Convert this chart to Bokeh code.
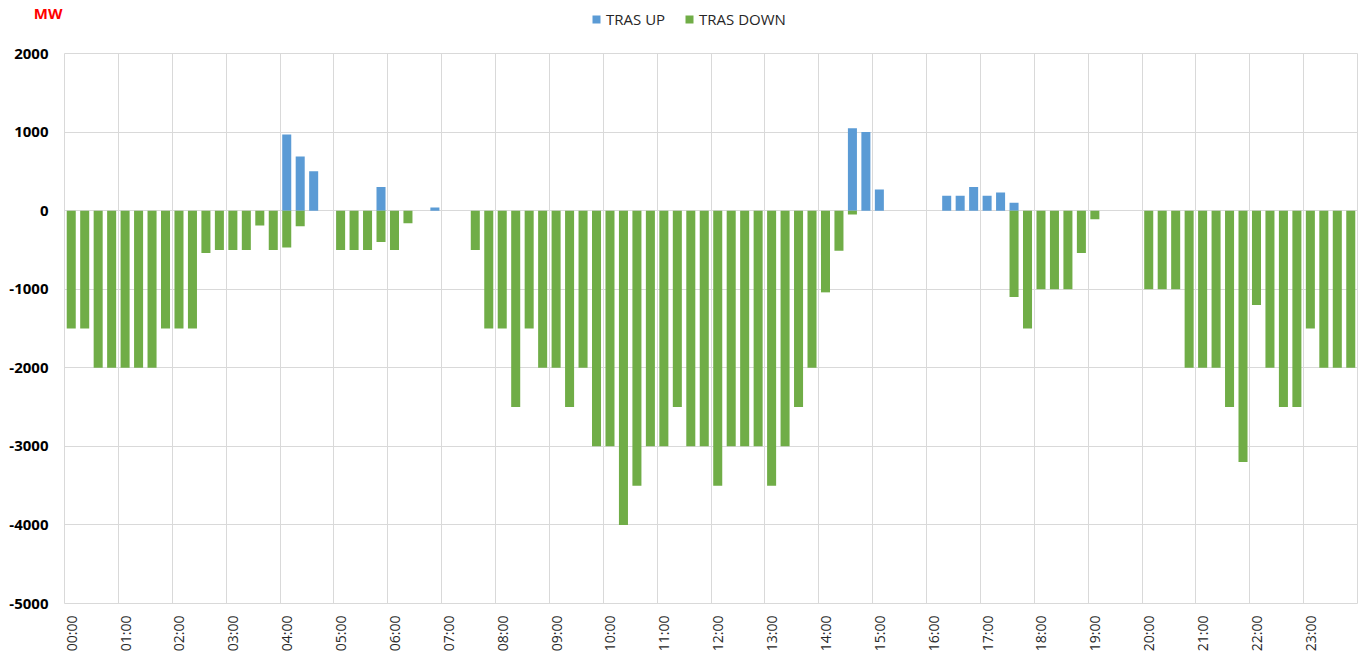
from bokeh.plotting import figure
from bokeh.layouts import column
from bokeh.models import FixedTicker, Legend, LegendItem, ColumnDataSource, Range1d
from bokeh.embed import file_html
from bokeh.resources import INLINE

# Quarter-hour slots 00:00 .. 23:45
hours = [f"{h:02d}:00" for h in range(24)]

tras_up = [
    0, 0, 0, 0,          # 00
    0, 0, 0, 0,          # 01
    0, 0, 0, 0,          # 02
    0, 0, 0, 0,          # 03
    970, 690, 500, 0,    # 04
    0, 0, 0, 300,        # 05
    0, 0, 0, 40,         # 06
    0, 0, 0, 0,          # 07
    0, 0, 0, 0,          # 08
    0, 0, 0, 0,          # 09
    0, 0, 0, 0,          # 10
    0, 0, 0, 0,          # 11
    0, 0, 0, 0,          # 12
    0, 0, 0, 0,          # 13
    0, 0, 1050, 1000,    # 14
    270, 0, 0, 0,        # 15
    0, 190, 190, 300,    # 16
    190, 230, 100, 0,    # 17
    0, 0, 0, 0,          # 18
    0, 0, 0, 0,          # 19
    0, 0, 0, 0,          # 20
    0, 0, 0, 0,          # 21
    0, 0, 0, 0,          # 22
    0, 0, 0, 0,          # 23
]

tras_down = [
    -1500, -1500, -2000, -2000,   # 00
    -2000, -2000, -2000, -1500,   # 01
    -1500, -1500, -540, -500,     # 02
    -500, -500, -190, -500,       # 03
    -470, -200, 0, 0,             # 04
    -500, -500, -500, -400,       # 05
    -500, -160, 0, 0,             # 06
    0, 0, -500, -1500,            # 07
    -1500, -2500, -1500, -2000,   # 08
    -2000, -2500, -2000, -3000,   # 09
    -3000, -4000, -3500, -3000,   # 10
    -3000, -2500, -3000, -3000,   # 11
    -3500, -3000, -3000, -3000,   # 12
    -3500, -3000, -2500, -2000,   # 13
    -1040, -510, -50, 0,          # 14
    0, 0, 0, 0,                   # 15
    0, 0, 0, 0,                   # 16
    0, 0, -1100, -1500,           # 17
    -1000, -1000, -1000, -540,    # 18
    -110, 0, 0, 0,                # 19
    -1000, -1000, -1000, -2000,   # 20
    -2000, -2000, -2500, -3200,   # 21
    -1200, -2000, -2500, -2500,   # 22
    -1500, -2000, -2000, -2000,   # 23
]

series_names = ["TRAS UP", "TRAS DOWN"]
series_colors = ["#5B9BD5", "#70AD47"]
unit_label = "MW"

y_ticks = [-5000, -4000, -3000, -2000, -1000, 0, 1000, 2000]
y_labels = ["-5000", "-4000", "-3000", "-2000", "-1000", "0", "1000", "2000"]

W = 1363
TOP_H = 43          # header strip height
TOP_FRAME = 36      # header strip frame height (pixels from top)
MAIN_TOP = 10       # main plot border above frame

# ---------- header strip: unit label (as axis label text) and legend ----------
top = figure(width=W, height=TOP_H, output_backend="svg", toolbar_location=None,
             x_range=Range1d(0, 1), y_range=Range1d(TOP_FRAME, 0), x_axis_location=None,
             min_border_left=64, min_border_right=6, min_border_top=0,
             min_border_bottom=TOP_H - TOP_FRAME)
top.outline_line_color = None
top.xgrid.visible = False
top.ygrid.visible = False
top.yaxis.ticker = FixedTicker(ticks=[12.5])
top.yaxis.major_label_overrides = {12.5: unit_label}
top.yaxis.major_label_text_color = "#FF0000"
top.yaxis.major_label_text_font = "Open Sans"
top.yaxis.major_label_text_font_style = "bold"
top.yaxis.major_label_text_font_size = "15px"
top.yaxis.major_label_standoff = 2
top.yaxis.axis_line_color = None
top.yaxis.major_tick_line_color = None
top.yaxis.major_tick_out = 0
top.yaxis.major_tick_in = 0
top.yaxis.minor_tick_line_color = None

# zero-height proxies so the legend can show the series swatches
proxy_up = top.vbar(x=[0], top=[0], bottom=[0], width=0, fill_color=series_colors[0], line_color=None)
proxy_down = top.vbar(x=[0], top=[0], bottom=[0], width=0, fill_color=series_colors[1], line_color=None)
legend = Legend(items=[LegendItem(label=series_names[0], renderers=[proxy_up]),
                       LegendItem(label=series_names[1], renderers=[proxy_down])],
                orientation="horizontal", location=(527, TOP_FRAME - 29),
                glyph_width=10, glyph_height=10, label_standoff=5, spacing=19,
                padding=0, margin=0, border_line_color=None, background_fill_alpha=0,
                label_text_font="Open Sans", label_text_font_size="15px",
                label_text_color="#262626")
top.add_layout(legend, "center")

# ---------- main chart ----------
n = len(tras_up)
xs = [i + 0.5 for i in range(n)]
src = ColumnDataSource(dict(x=xs, up=tras_up, down=tras_down, zero=[0] * n))

p = figure(width=W, height=658 - TOP_H, output_backend="svg", toolbar_location=None,
           x_range=(0, n), y_range=(-5000, 2000),
           min_border_left=64, min_border_right=6, min_border_top=MAIN_TOP, min_border_bottom=55)
p.background_fill_color = "white"
p.border_fill_color = "white"
p.outline_line_color = "#D9D9D9"

p.vbar(x="x", top="up", bottom="zero", width=0.67, source=src,
       fill_color=series_colors[0], line_color=None)
p.vbar(x="x", top="zero", bottom="down", width=0.67, source=src,
       fill_color=series_colors[1], line_color=None)

# x axis: labels at first slot of each hour, grid at hour boundaries
tick_pos = [i * 4 + 0.5 for i in range(24)]
p.xaxis.ticker = FixedTicker(ticks=tick_pos)
p.xaxis.major_label_overrides = {t: h for t, h in zip(tick_pos, hours)}
p.xaxis.major_label_orientation = 1.5707963
p.xaxis.major_label_text_font = "Open Sans"
p.xaxis.major_label_text_font_size = "14px"
p.xaxis.major_label_text_color = "#262626"
p.xaxis.major_label_standoff = 12
p.xaxis.axis_line_color = None
p.xaxis.major_tick_line_color = None
p.xaxis.major_tick_out = 0
p.xaxis.major_tick_in = 0
p.xaxis.minor_tick_line_color = None
p.xgrid.ticker = FixedTicker(ticks=[i * 4 for i in range(25)])
p.xgrid.grid_line_color = "#D9D9D9"

p.yaxis.ticker = FixedTicker(ticks=y_ticks)
p.yaxis.major_label_overrides = {t: s for t, s in zip(y_ticks, y_labels)}
p.yaxis.major_label_text_font = "Open Sans"
p.yaxis.major_label_text_font_style = "bold"
p.yaxis.major_label_text_font_size = "15px"
p.yaxis.major_label_text_color = "black"
p.yaxis.major_label_standoff = 16
p.yaxis.axis_line_color = None
p.yaxis.major_tick_line_color = None
p.yaxis.major_tick_out = 0
p.yaxis.major_tick_in = 0
p.yaxis.minor_tick_line_color = None
p.ygrid.grid_line_color = "#D9D9D9"

layout = column(top, p, spacing=0)
open("out.html", "w").write(file_html(layout, INLINE))
